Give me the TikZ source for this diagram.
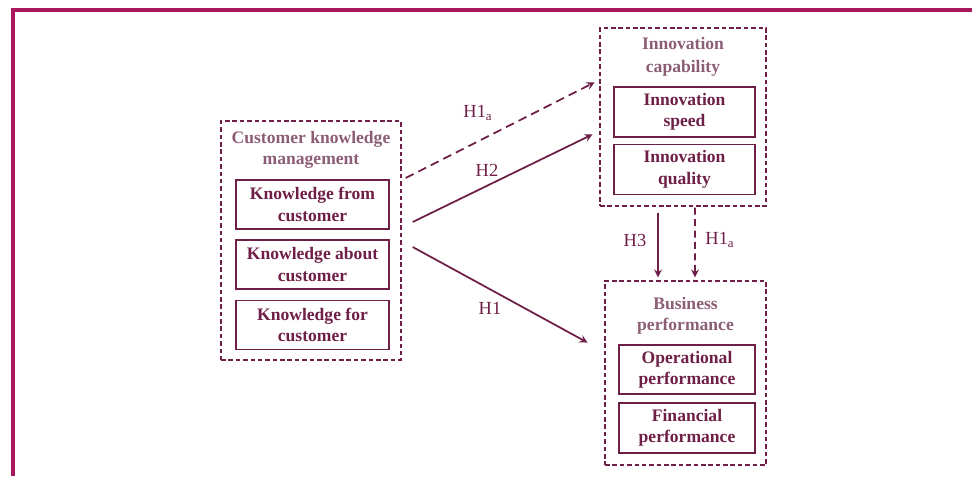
\documentclass[tikz,border=0pt]{standalone}
\usepackage{fontspec}
\setmainfont{Liberation Serif}
\usepackage{tikz}
\usetikzlibrary{arrows}
\definecolor{maroon}{HTML}{6E1F47}
\definecolor{mauve}{HTML}{8C5E75}
\definecolor{frame}{HTML}{A8185E}
\tikzset{
  outer/.style={draw=maroon, line width=0.8pt, dash pattern=on 2.6pt off 1.6pt},
  inner/.style={draw=maroon, line width=1.1pt, text=maroon, align=center,
    font=\bfseries\fontsize{10}{12.2}\selectfont},
  head/.style={text=mauve, align=center, font=\bfseries\fontsize{10}{12}\selectfont},
  hyp/.style={->, >=stealth, draw=maroon, line width=1pt, shorten >=0.5pt},
  hlabel/.style={text=maroon, font=\fontsize{10.5}{12}\selectfont}
}
\begin{document}
\begin{tikzpicture}[x=0.02cm,y=-0.02cm,>=stealth]
            \useasboundingbox (0,0) rectangle (972,476);
            \draw[frame, line width=1.8pt] (13,476) -- (13,10) -- (972,10);
            % customer knowledge management
            \node[outer, minimum width=3.6cm, minimum height=4.78cm] (ckm) at (311,240.5) {};
            \node[head] (ckmt) at (311,150) {Customer knowledge\\management};
            \node[inner, minimum width=3.06cm, minimum height=0.98cm] (kf) at (312.5,204.5) {Knowledge from\\customer};
            \node[inner, minimum width=3.06cm, minimum height=0.98cm] (ka) at (312.5,264.5) {Knowledge about\\customer};
            \node[inner, minimum width=3.06cm, minimum height=0.98cm] (kc) at (312.5,325) {Knowledge for\\customer};
            % innovation capability
            \node[outer, minimum width=3.32cm, minimum height=3.56cm] (ic) at (683,117) {};
            \node[head, font=\bfseries\fontsize{10}{13}\selectfont] (ict) at (683,57) {Innovation\\capability};
            \node[inner, minimum width=2.82cm, minimum height=1cm] (is) at (684.5,112) {Innovation\\speed};
            \node[inner, minimum width=2.82cm, minimum height=1cm] (iq) at (684.5,169.5) {Innovation\\quality};
            % business performance
            \node[outer, minimum width=3.22cm, minimum height=3.68cm] (bp) at (685.5,373) {};
            \node[head] (bpt) at (685.5,316) {Business\\performance};
            \node[inner, minimum width=2.72cm, minimum height=0.98cm] (op) at (687,369.5) {Operational\\performance};
            \node[inner, minimum width=2.72cm, minimum height=0.98cm] (fp) at (687,428) {Financial\\performance};
            % hypotheses
            \draw[hyp, dash pattern=on 5pt off 3pt] ([shift={(4,-62.5)}]ckm.east) -- ([shift={(-4,-35)}]ic.west);
            \draw[hyp] ([shift={(11,-18.5)}]ckm.east) -- ([shift={(-6,17)}]ic.west);
            \draw[hyp] ([shift={(11,6.5)}]ckm.east) -- ([shift={(-16,-30)}]bp.west);
            \draw[hyp] ([shift={(-25,6)}]ic.south) -- ([shift={(-27.5,-2)}]bp.north);
            \draw[hyp, dash pattern=on 4pt off 2.5pt] ([shift={(12,1)}]ic.south) -- ([shift={(9.5,-2)}]bp.north);
            \node[hlabel] (l1a) at (478,113) {H1\textsubscript{a}};
            \node[hlabel] (l2) at (487,170) {H2};
            \node[hlabel] (l1) at (490,308) {H1};
            \node[hlabel] (l3) at (635,240) {H3};
            \node[hlabel] (l1b) at (720,240) {H1\textsubscript{a}};
        \end{tikzpicture}
\end{document}
